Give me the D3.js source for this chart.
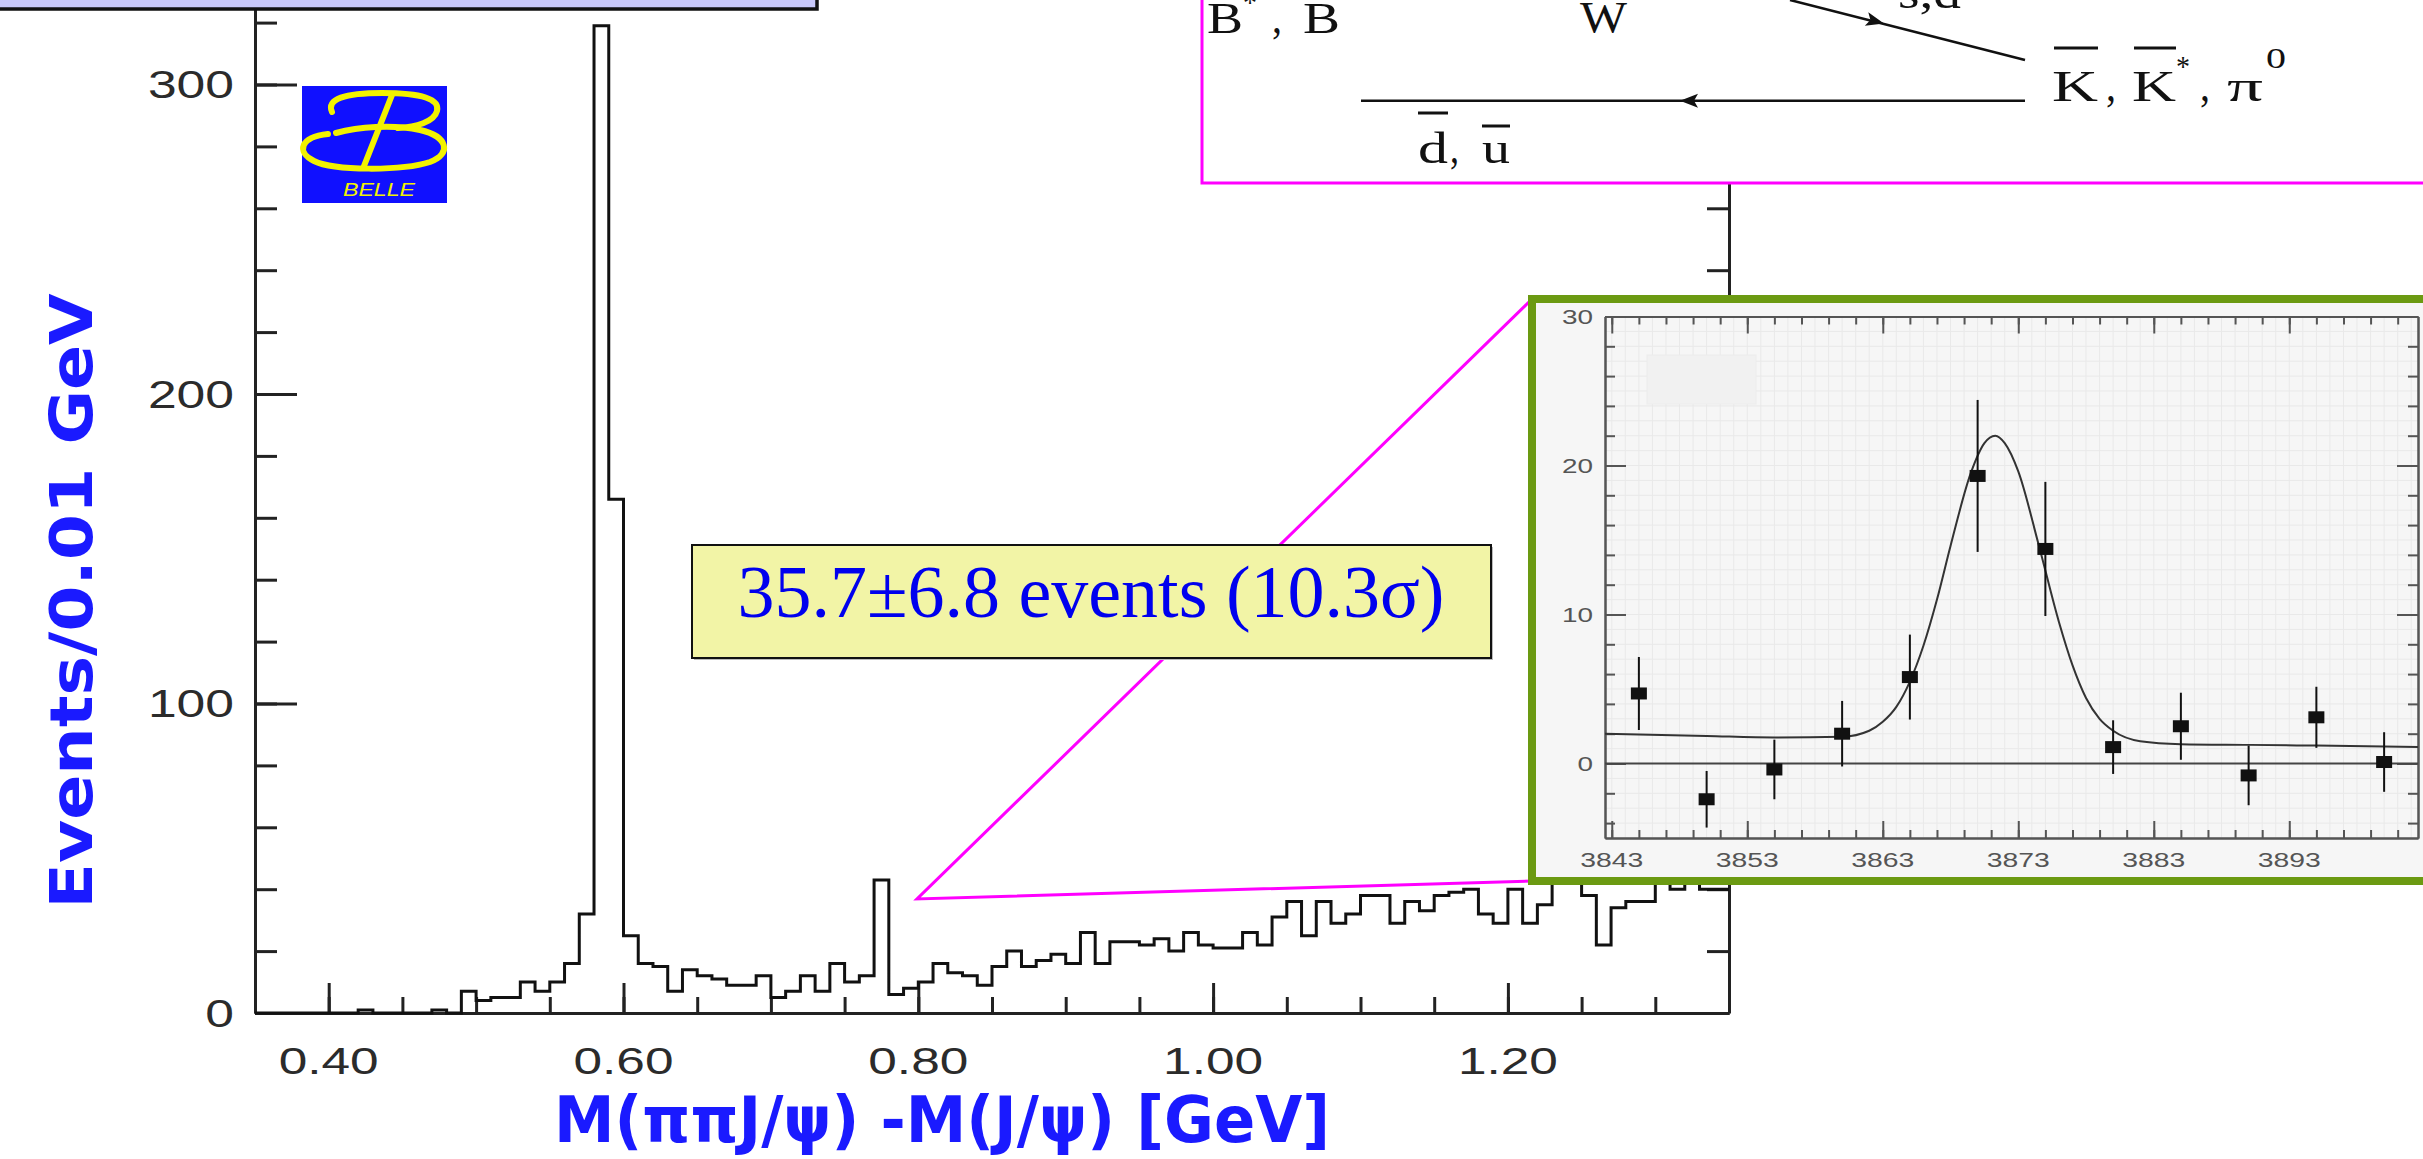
<!DOCTYPE html>
<html>
<head>
<meta charset="utf-8">
<script src="https://cdn.jsdelivr.net/npm/d3@7"></script>
<style>
  body { margin: 0; background: #fff; overflow: hidden; }
  svg { display: block; }
</style>
</head>
<body>
<script>
// ---- main histogram: events per 0.01 GeV, bins from 0.35 GeV ----
const binStart = 0.35;
const binWidth = 0.01;
const counts = [
  0, 0, 0, 0, 0, 0, 0, 1, 0, 0,
  0, 0, 1, 0, 7, 4, 5, 5, 10, 7,
  10, 16, 32, 319, 166, 25, 16, 15, 7, 14,
  12, 11, 9, 9, 12, 5, 7, 12, 7, 16,
  10, 12, 43, 6, 8, 10, 16, 13, 12, 9,
  15, 20, 15, 17, 19, 16, 26, 16, 23, 23,
  22, 24, 20, 26, 22, 21, 21, 26, 22, 31,
  36, 25, 36, 29, 32, 38, 38, 29, 36, 33,
  38, 39, 40, 32, 29, 40, 29, 35, 44, 45,
  38, 22, 34, 36, 36, 43, 40, 43, 40, 40
];
const xMajorTicks = [0.40, 0.60, 0.80, 1.00, 1.20];
const xTickLabels = ["0.40", "0.60", "0.80", "1.00", "1.20"];
const yMajorTicks = [0, 100, 200, 300];
const yTickLabels = ["0", "100", "200", "300"];

// ---- inset: X(3872) region, MeV ----
const insetMass = [3845, 3850, 3855, 3860, 3865, 3870, 3875, 3880, 3885, 3890, 3895, 3900];
const insetEvents = [4.7, -2.4, -0.4, 2.0, 5.8, 19.3, 14.4, 1.1, 2.5, -0.8, 3.1, 0.1];
const insetErrors = [2.45, 1.9, 2.0, 2.2, 2.85, 5.1, 4.5, 1.8, 2.25, 2.0, 2.05, 2.0];
const fitMass = [3842.5, 3850, 3855, 3860, 3862, 3863, 3864, 3865, 3866, 3867, 3868, 3869.5, 3870.5,
  3871.3, 3872, 3873, 3874.5, 3876, 3877, 3878, 3879, 3880, 3882, 3885, 3890, 3895, 3902.5];
const fitValue = [2.0, 1.85, 1.75, 1.8, 2.2, 2.8, 3.8, 5.5, 7.9, 11.0, 14.6, 19.5, 21.5,
  22.0, 21.5, 19.6, 14.7, 9.5, 6.6, 4.4, 3.0, 2.2, 1.5, 1.3, 1.25, 1.2, 1.1];
const insetXTicks = [3843, 3853, 3863, 3873, 3883, 3893];
const insetYTicks = [0, 10, 20, 30];

const W = 2423, H = 1159;
const svg = d3.select("body").append("svg").attr("width", W).attr("height", H);

// scales
const x = d3.scaleLinear().domain([0.35, 1.35]).range([255, 1729]);
const y = d3.scaleLinear().domain([0, 327.3]).range([1013, 0]);

// ---- axes frame with ticks ----
function styleAxis(g, w) {
  g.selectAll("path, line").attr("stroke", "#222").attr("stroke-width", w);
  g.selectAll("text").remove();
}
const xMinor = d3.range(7, 28).map(i => +(i * 0.05).toFixed(2));
const yMinor = d3.range(0, 321, 20);

svg.append("g").attr("transform", "translate(0,1013)")
  .call(d3.axisTop(x).tickValues(xMinor).tickSize(16).tickSizeOuter(0).tickFormat(""))
  .call(g => styleAxis(g, 3));
svg.append("g").attr("transform", "translate(0,1013)")
  .call(d3.axisTop(x).tickValues(xMajorTicks).tickSize(30).tickSizeOuter(0).tickFormat(""))
  .call(g => styleAxis(g, 3));
svg.append("g").attr("transform", "translate(255,0)")
  .call(d3.axisRight(y).tickValues(yMinor).tickSize(22).tickSizeOuter(0).tickFormat(""))
  .call(g => styleAxis(g, 3));
svg.append("g").attr("transform", "translate(255,0)")
  .call(d3.axisRight(y).tickValues(yMajorTicks).tickSize(42).tickSizeOuter(0).tickFormat(""))
  .call(g => styleAxis(g, 3));
svg.append("g").attr("transform", "translate(1729,0)")
  .call(d3.axisLeft(y).tickValues(yMinor).tickSize(22).tickSizeOuter(0).tickFormat(""))
  .call(g => styleAxis(g, 3));

// tick labels
svg.append("g").selectAll("text").data(xMajorTicks).join("text")
  .attr("x", d => x(d)).attr("y", 1074)
  .attr("text-anchor", "middle")
  .attr("font-family", "Liberation Sans, Arial, sans-serif")
  .attr("font-size", 37).attr("fill", "#2b2b2b")
  .attr("textLength", 100).attr("lengthAdjust", "spacingAndGlyphs")
  .text((d, i) => xTickLabels[i]);
svg.append("g").selectAll("text").data(yMajorTicks).join("text")
  .attr("x", 234).attr("y", d => y(d) + 14)
  .attr("text-anchor", "end")
  .attr("font-family", "Liberation Sans, Arial, sans-serif")
  .attr("font-size", 39).attr("fill", "#2b2b2b")
  .attr("textLength", (d, i) => yTickLabels[i].length * 28.7)
  .attr("lengthAdjust", "spacingAndGlyphs")
  .text((d, i) => yTickLabels[i]);

// histogram outline
const histPts = counts.map((c, i) => [binStart + i * binWidth, c]);
histPts.push([binStart + counts.length * binWidth, counts[counts.length - 1]]);
const histLine = d3.line().x(d => x(d[0])).y(d => y(d[1])).curve(d3.curveStepAfter);
svg.append("path").attr("d", histLine(histPts))
  .attr("fill", "none").attr("stroke", "#111").attr("stroke-width", 3);

// axis titles
svg.append("text")
  .attr("transform", "translate(92,601) rotate(-90)")
  .attr("text-anchor", "middle")
  .attr("font-family", "DejaVu Sans, sans-serif").attr("font-weight", "bold")
  .attr("font-size", 58).attr("fill", "#1a1aff")
  .attr("textLength", 615).attr("lengthAdjust", "spacingAndGlyphs")
  .text("Events/0.01 GeV");
svg.append("text")
  .attr("x", 554).attr("y", 1142)
  .attr("font-family", "DejaVu Sans, sans-serif").attr("font-weight", "bold")
  .attr("font-size", 64).attr("fill", "#1a1aff")
  .attr("textLength", 776).attr("lengthAdjust", "spacingAndGlyphs")
  .text("M(ππJ/ψ) -M(J/ψ) [GeV]");

// Belle logo
const logo = svg.append("g");
logo.append("rect").attr("x", 302).attr("y", 86).attr("width", 145).attr("height", 117).attr("fill", "#1010ff");
const yel = "#f2f200";
logo.append("path")
  .attr("d", "M 332 112 C 326 99, 345 93, 382 93 C 422 93, 440 99, 437 111 C 434 122, 416 127, 398 128")
  .attr("fill", "none").attr("stroke", yel).attr("stroke-width", 6).attr("stroke-linecap", "round");
logo.append("path")
  .attr("d", "M 328 134 C 300 137, 296 152, 314 161 C 334 171, 402 171, 430 162 C 452 154, 448 136, 420 130 C 392 124, 358 127, 336 133")
  .attr("fill", "none").attr("stroke", yel).attr("stroke-width", 6).attr("stroke-linecap", "round");
logo.append("path").attr("d", "M 392 95 L 364 166")
  .attr("stroke", yel).attr("stroke-width", 6).attr("stroke-linecap", "round");
logo.append("text").attr("x", 343).attr("y", 196)
  .attr("font-family", "Liberation Sans, sans-serif").attr("font-style", "italic")
  .attr("font-size", 19).attr("fill", yel)
  .attr("textLength", 72).attr("lengthAdjust", "spacingAndGlyphs").text("BELLE");

// magenta zoom lines
svg.append("path")
  .attr("d", "M 1532 299 L 917 899 L 1532 881")
  .attr("fill", "none").attr("stroke", "#ff00ff").attr("stroke-width", 3);

// yield label box
svg.append("rect").attr("x", 694).attr("y", 547).attr("width", 799).attr("height", 113).attr("fill", "#bbb");
svg.append("rect").attr("x", 692).attr("y", 545).attr("width", 799).attr("height", 113)
  .attr("fill", "#f2f4a6").attr("stroke", "#111").attr("stroke-width", 2);
svg.append("text").attr("x", 1091).attr("y", 617)
  .attr("text-anchor", "middle")
  .attr("font-family", "Liberation Serif, Times New Roman, serif")
  .attr("font-size", 74).attr("fill", "#0000ee")
  .attr("textLength", 707).attr("lengthAdjust", "spacingAndGlyphs")
  .text("35.7±6.8 events (10.3σ)");

// ---- inset ----
const inset = svg.append("g");
inset.append("rect").attr("x", 1532).attr("y", 299).attr("width", 920).attr("height", 582)
  .attr("fill", "#f6f6f6").attr("stroke", "#6b9a12").attr("stroke-width", 8);

const xi = d3.scaleLinear().domain([3842.5, 3902.5]).range([1605, 2418]);
const yi = d3.scaleLinear().domain([-5, 30]).range([838, 316.5]);

// faint grid
inset.append("g").selectAll("line").data(d3.range(3843, 3903, 1)).join("line")
  .attr("x1", d => xi(d)).attr("x2", d => xi(d)).attr("y1", yi(30)).attr("y2", yi(-5))
  .attr("stroke", "#e9e9e9").attr("stroke-width", 1);
inset.append("g").selectAll("line").data(d3.range(-5, 31, 1)).join("line")
  .attr("y1", d => yi(d)).attr("y2", d => yi(d)).attr("x1", xi(3842.5)).attr("x2", xi(3902.5))
  .attr("stroke", "#e9e9e9").attr("stroke-width", 1);
inset.append("rect").attr("x", 1647).attr("y", 355).attr("width", 109).attr("height", 49)
  .attr("fill", "#f1f1f1").attr("stroke", "#ececec");

function styleInset(g) {
  g.selectAll("path, line").attr("stroke", "#555").attr("stroke-width", 2);
  g.selectAll("text").remove();
}
const ixMinor = d3.range(3843, 3902, 2);
const iyMinor = d3.range(-4, 31, 2);
inset.append("g").attr("transform", `translate(0,${yi(-5)})`)
  .call(d3.axisTop(xi).tickValues(ixMinor).tickSize(8).tickSizeOuter(0)).call(styleInset);
inset.append("g").attr("transform", `translate(0,${yi(-5)})`)
  .call(d3.axisTop(xi).tickValues(insetXTicks).tickSize(17).tickSizeOuter(0)).call(styleInset);
inset.append("g").attr("transform", `translate(0,${yi(30)})`)
  .call(d3.axisBottom(xi).tickValues(ixMinor).tickSize(8).tickSizeOuter(0)).call(styleInset);
inset.append("g").attr("transform", `translate(0,${yi(30)})`)
  .call(d3.axisBottom(xi).tickValues(insetXTicks).tickSize(17).tickSizeOuter(0)).call(styleInset);
inset.append("g").attr("transform", `translate(${xi(3842.5)},0)`)
  .call(d3.axisRight(yi).tickValues(iyMinor).tickSize(10).tickSizeOuter(0)).call(styleInset);
inset.append("g").attr("transform", `translate(${xi(3842.5)},0)`)
  .call(d3.axisRight(yi).tickValues(insetYTicks).tickSize(21).tickSizeOuter(0)).call(styleInset);
inset.append("g").attr("transform", `translate(${xi(3902.5)},0)`)
  .call(d3.axisLeft(yi).tickValues(iyMinor).tickSize(10).tickSizeOuter(0)).call(styleInset);
inset.append("g").attr("transform", `translate(${xi(3902.5)},0)`)
  .call(d3.axisLeft(yi).tickValues(insetYTicks).tickSize(21).tickSizeOuter(0)).call(styleInset);

inset.append("g").selectAll("text").data(insetXTicks).join("text")
  .attr("x", d => xi(d)).attr("y", 867).attr("text-anchor", "middle")
  .attr("font-family", "Liberation Sans, Arial, sans-serif").attr("font-size", 20)
  .attr("fill", "#555").attr("textLength", 63).attr("lengthAdjust", "spacingAndGlyphs")
  .text(d => d);
inset.append("g").selectAll("text").data(insetYTicks).join("text")
  .attr("x", 1593).attr("y", d => yi(d) + 7).attr("text-anchor", "end")
  .attr("font-family", "Liberation Sans, Arial, sans-serif").attr("font-size", 20)
  .attr("fill", "#555").attr("textLength", d => String(d).length * 15.5)
  .attr("lengthAdjust", "spacingAndGlyphs")
  .text(d => d);

// zero line
inset.append("line").attr("x1", xi(3842.5)).attr("x2", xi(3902.5))
  .attr("y1", yi(0)).attr("y2", yi(0)).attr("stroke", "#444").attr("stroke-width", 2);

// fit curve
const fitLine = d3.line().x((d, i) => xi(fitMass[i])).y(d => yi(d)).curve(d3.curveMonotoneX);
inset.append("path").attr("d", fitLine(fitValue))
  .attr("fill", "none").attr("stroke", "#333").attr("stroke-width", 2);

// data points with error bars
inset.append("g").selectAll("line").data(insetEvents).join("line")
  .attr("x1", (d, i) => xi(insetMass[i])).attr("x2", (d, i) => xi(insetMass[i]))
  .attr("y1", (d, i) => yi(d - insetErrors[i])).attr("y2", (d, i) => yi(d + insetErrors[i]))
  .attr("stroke", "#111").attr("stroke-width", 2);
inset.append("g").selectAll("rect").data(insetEvents).join("rect")
  .attr("x", (d, i) => xi(insetMass[i]) - 8).attr("y", d => yi(d) - 6)
  .attr("width", 16).attr("height", 12).attr("fill", "#111");

// ---- Feynman diagram box (top right) ----
const fey = svg.append("g");
fey.append("rect").attr("x", 1202).attr("y", -10).attr("width", 1240).attr("height", 193)
  .attr("fill", "#fff").attr("stroke", "#ff00ff").attr("stroke-width", 3);
fey.append("line").attr("x1", 1790).attr("y1", 0).attr("x2", 2025).attr("y2", 60)
  .attr("stroke", "#111").attr("stroke-width", 2.5);
fey.append("line").attr("x1", 1361).attr("y1", 100.7).attr("x2", 2025).attr("y2", 100.7)
  .attr("stroke", "#111").attr("stroke-width", 2.5);
fey.append("path").attr("d", "M 0 0 L -18 -7 L -14 0 L -18 7 Z")
  .attr("transform", "translate(1884,23.5) rotate(14.3)").attr("fill", "#111");
fey.append("path").attr("d", "M 0 0 L 18 -7 L 14 0 L 18 7 Z")
  .attr("transform", "translate(1680,100.7)").attr("fill", "#111");

const serif = "Liberation Serif, Times New Roman, serif";
function feyText(txt, x0, yb, len, size) {
  fey.append("text").attr("x", x0).attr("y", yb)
    .attr("font-family", serif).attr("font-size", size || 44).attr("fill", "#111")
    .attr("textLength", len).attr("lengthAdjust", "spacingAndGlyphs").text(txt);
}
function overline(x1, x2, yy) {
  fey.append("line").attr("x1", x1).attr("x2", x2).attr("y1", yy).attr("y2", yy)
    .attr("stroke", "#111").attr("stroke-width", 3);
}
feyText("B", 1207, 33, 36);
feyText("*", 1243, 12, 14, 30);
feyText(",", 1272, 33, 10);
feyText("B", 1303, 33, 37);
feyText("W", 1580, 32, 47);
feyText("s,d", 1898, 8, 63);
feyText("K", 2052, 101, 46);
overline(2054, 2098, 48);
feyText(",", 2106, 101, 10);
feyText("K", 2132, 101, 44);
overline(2134, 2176, 48);
feyText("*", 2176, 76, 14, 30);
feyText(",", 2200, 101, 10);
feyText("π", 2227, 101, 36);
feyText("0", 2266, 68, 20, 30);
feyText("d", 1418, 163, 30);
overline(1418, 1448, 113);
feyText(",", 1450, 163, 9);
feyText("u", 1482, 163, 28);
overline(1482, 1510, 126);

// ---- title box (top left, cut off) ----
svg.append("rect").attr("x", -10).attr("y", -30).attr("width", 827).attr("height", 39)
  .attr("fill", "#c8c8fa").attr("stroke", "#111").attr("stroke-width", 3.5);
</script>
</body>
</html>
